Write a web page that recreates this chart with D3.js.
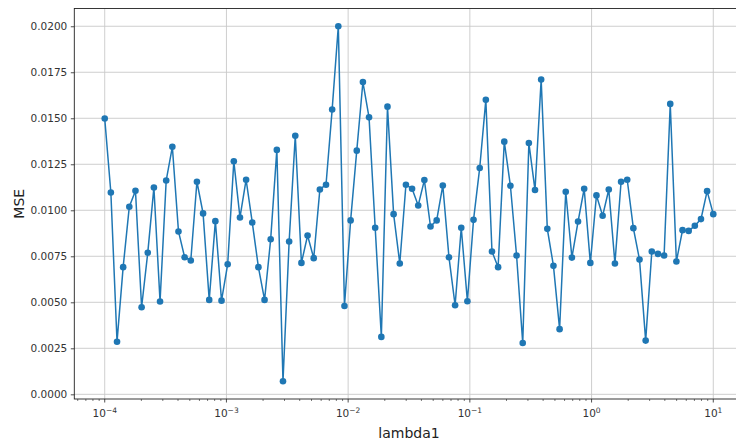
<!DOCTYPE html>
<html>
<head>
<meta charset="utf-8">
<script src="https://cdn.jsdelivr.net/npm/d3@7"></script>
<style>
  body { margin: 0; background: #fff; }
  svg { display: block; font-family: "DejaVu Sans", sans-serif; }
</style>
</head>
<body>
<div id="chart"></div>
<script>
// lambda1 grid (100 values, 1e-4 .. 1e1)
const lambdas = [
  1.000e-4, 1.123e-4, 1.262e-4, 1.417e-4, 1.592e-4, 1.789e-4, 2.009e-4, 2.257e-4, 2.535e-4, 2.848e-4,
  3.199e-4, 3.594e-4, 4.037e-4, 4.535e-4, 5.094e-4, 5.722e-4, 6.428e-4, 7.221e-4, 8.111e-4, 9.112e-4,
  1.024e-3, 1.150e-3, 1.292e-3, 1.451e-3, 1.630e-3, 1.831e-3, 2.057e-3, 2.310e-3, 2.595e-3, 2.915e-3,
  3.275e-3, 3.678e-3, 4.132e-3, 4.642e-3, 5.214e-3, 5.857e-3, 6.579e-3, 7.391e-3, 8.302e-3, 9.326e-3,
  1.048e-2, 1.177e-2, 1.322e-2, 1.485e-2, 1.668e-2, 1.874e-2, 2.105e-2, 2.364e-2, 2.656e-2, 2.984e-2,
  3.352e-2, 3.765e-2, 4.229e-2, 4.751e-2, 5.337e-2, 5.995e-2, 6.734e-2, 7.565e-2, 8.498e-2, 9.545e-2,
  0.1072, 0.1205, 0.1353, 0.1520, 0.1707, 0.1918, 0.2154, 0.2420, 0.2719, 0.3054,
  0.3430, 0.3854, 0.4329, 0.4863, 0.5462, 0.6136, 0.6893, 0.7743, 0.8697, 0.9770,
  1.097, 1.233, 1.385, 1.556, 1.748, 1.963, 2.205, 2.477, 2.783, 3.126,
  3.511, 3.944, 4.431, 4.977, 5.591, 6.280, 7.055, 7.925, 8.902, 10.00
];

// MSE
const mse = [
  0.01499, 0.01097, 0.00286, 0.00691, 0.01019, 0.01106, 0.00473, 0.00769, 0.01124, 0.00504,
  0.01162, 0.01345, 0.00885, 0.00745, 0.00727, 0.01155, 0.00983, 0.00513, 0.00941, 0.00509,
  0.00707, 0.01266, 0.00961, 0.01166, 0.00934, 0.00691, 0.00513, 0.00843, 0.01328, 0.00071,
  0.00830, 0.01405, 0.00714, 0.00863, 0.00740, 0.01113, 0.01139, 0.01548, 0.02000, 0.00480,
  0.00945, 0.01324, 0.01697, 0.01505, 0.00905, 0.00312, 0.01563, 0.00979, 0.00711, 0.01139,
  0.01117, 0.01026, 0.01164, 0.00912, 0.00945, 0.01135, 0.00745, 0.00484, 0.00905, 0.00506,
  0.00948, 0.01230, 0.01600, 0.00776, 0.00691, 0.01373, 0.01133, 0.00754, 0.00279, 0.01366,
  0.01110, 0.01710, 0.00899, 0.00698, 0.00354, 0.01101, 0.00743, 0.00939, 0.01117, 0.00714,
  0.01081, 0.00970, 0.01113, 0.00711, 0.01155, 0.01166, 0.00903, 0.00732, 0.00292, 0.00776,
  0.00763, 0.00754, 0.01578, 0.00722, 0.00892, 0.00888, 0.00916, 0.00952, 0.01104, 0.00979
];

const yTicks = [0, 0.0025, 0.005, 0.0075, 0.01, 0.0125, 0.015, 0.0175, 0.02];
const xTicks = [1e-4, 1e-3, 1e-2, 1e-1, 1e0, 1e1];
const xTickExp = ["\u22124", "\u22123", "\u22122", "\u22121", "0", "1"];

const W = 736, H = 441;
// plot box (right edge falls outside the picture, as in the original crop)
const box = {left: 74.3, top: 8.5, right: 743.7, bottom: 399};
const color = "#1f77b4";

const data = lambdas.map((l, i) => ({x: l, y: mse[i]}));

const svg = d3.select("#chart")
  .append("svg")
    .attr("width", W)
    .attr("height", H);

// matplotlib style 5% margins
const lx = d3.extent(lambdas).map(Math.log10);
const px = (lx[1] - lx[0]) * 0.05;
const x = d3.scaleLog()
  .domain([Math.pow(10, lx[0] - px), Math.pow(10, lx[1] + px)])
  .range([box.left, box.right]);

const ey = d3.extent(mse);
const py = (ey[1] - ey[0]) * 0.05;
const y = d3.scaleLinear()
  .domain([ey[0] - py, ey[1] + py])
  .range([box.bottom, box.top]);

// grid
svg.append("g")
  .selectAll("line")
  .data(yTicks)
  .enter().append("line")
    .attr("x1", box.left).attr("x2", box.right)
    .attr("y1", d => y(d)).attr("y2", d => y(d))
    .attr("stroke", "#c8c8c8")
    .attr("stroke-width", 0.9);

svg.append("g")
  .selectAll("line")
  .data(xTicks)
  .enter().append("line")
    .attr("x1", d => x(d)).attr("x2", d => x(d))
    .attr("y1", box.top).attr("y2", box.bottom)
    .attr("stroke", "#c8c8c8")
    .attr("stroke-width", 0.9);

// y axis
const yAxis = svg.append("g")
  .attr("transform", `translate(${box.left},0)`)
  .call(d3.axisLeft(y).tickValues(yTicks).tickFormat(d3.format(".4f")).tickSizeOuter(0).tickSize(3.5).tickPadding(3.5));
yAxis.select(".domain").remove();
yAxis.selectAll("line").attr("stroke", "#222").attr("stroke-width", 0.8);
yAxis.selectAll("text")
  .attr("font-family", "DejaVu Sans")
  .attr("font-size", 10.5)
  .attr("fill", "#333");

// x axis with minor ticks
const minor = [];
for (let e = -5; e <= 1; e++) {
  for (let m = 2; m <= 9; m++) {
    const v = m * Math.pow(10, e);
    if (v > x.domain()[0] && v < x.domain()[1]) minor.push(v);
  }
}

const xAxis = svg.append("g")
  .attr("transform", `translate(0,${box.bottom})`);

xAxis.selectAll("line.minor")
  .data(minor)
  .enter().append("line")
    .attr("class", "minor")
    .attr("x1", d => x(d)).attr("x2", d => x(d))
    .attr("y1", 0).attr("y2", 2)
    .attr("stroke", "#222")
    .attr("stroke-width", 0.6);

const major = xAxis.selectAll("g.major")
  .data(xTicks)
  .enter().append("g")
    .attr("class", "major")
    .attr("transform", d => `translate(${x(d)},0)`);

major.append("line")
  .attr("y2", 3.5)
  .attr("stroke", "#222")
  .attr("stroke-width", 0.8);

const lab = major.append("text")
  .attr("y", 18)
  .attr("text-anchor", "middle")
  .attr("font-size", 10.5)
  .attr("fill", "#333");
lab.append("tspan").text("10");
lab.append("tspan")
  .attr("dy", -4.5)
  .attr("font-size", 7.5)
  .text((d, i) => xTickExp[i]);

// frame
svg.append("rect")
  .attr("x", box.left)
  .attr("y", box.top)
  .attr("width", box.right - box.left)
  .attr("height", box.bottom - box.top)
  .attr("fill", "none")
  .attr("stroke", "#222")
  .attr("stroke-width", 0.9);

// series
svg.append("path")
  .datum(data)
  .attr("fill", "none")
  .attr("stroke", color)
  .attr("stroke-width", 1.5)
  .attr("d", d3.line().x(d => x(d.x)).y(d => y(d.y)));

svg.append("g")
  .selectAll("circle")
  .data(data)
  .enter().append("circle")
    .attr("cx", d => x(d.x))
    .attr("cy", d => y(d.y))
    .attr("r", 3.3)
    .attr("fill", color);

// axis labels
svg.append("text")
  .attr("x", (box.left + box.right) / 2)
  .attr("y", 438)
  .attr("text-anchor", "middle")
  .attr("font-size", 14)
  .attr("fill", "#222")
  .text("lambda1");

svg.append("text")
  .attr("transform", `translate(24,${(box.top + box.bottom) / 2}) rotate(-90)`)
  .attr("text-anchor", "middle")
  .attr("font-size", 14)
  .attr("fill", "#222")
  .text("MSE");
</script>
</body>
</html>
